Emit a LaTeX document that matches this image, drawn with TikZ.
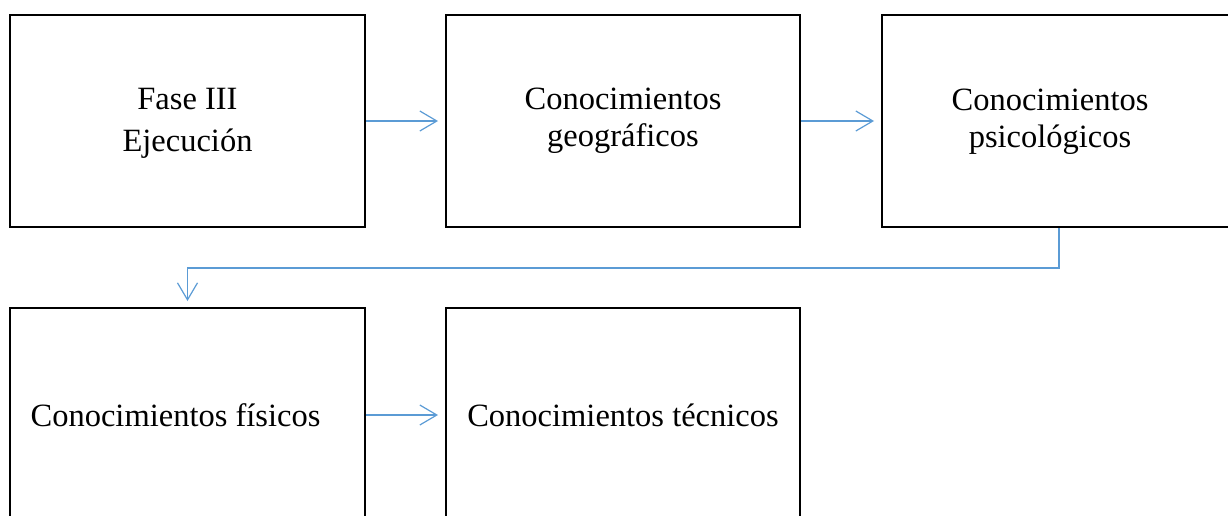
\documentclass[tikz,border=0pt]{standalone}
\usepackage{fontspec}
\setmainfont{Liberation Serif}
\usetikzlibrary{arrows.meta}
\definecolor{connblue}{RGB}{91,155,213}
\begin{document}
\begin{tikzpicture}[x=1pt,y=-1pt,
  box/.style={draw=black,line width=2pt,rectangle,minimum width=354pt,minimum height=212pt,inner sep=0pt},
  lowbox/.style={box,minimum height=214pt},
  boxtext/.style={align=center,inner sep=0pt,font=\fontsize{32.5}{42}\selectfont},
  tighttext/.style={boxtext,font=\fontsize{32.5}{37}\selectfont},
  conn/.style={draw=connblue,line width=1.2pt,-{Straight Barb[length=17pt,width=20pt,line width=1.2pt]}}]
\useasboundingbox (0,0) rectangle (1228,515);
\clip (0,0) rectangle (1228,515);
\node[box,minimum width=355pt,label={[boxtext,yshift=-2pt]center:{Fase III\\Ejecución}}] (b1) at (187.5,121) {};
\node[box,label={[tighttext]center:{Conocimientos\\geográficos}}] (b2) at (623,121) {};
\node[box,label={[tighttext,xshift=-9pt,yshift=-1pt]center:{Conocimientos\\psicológicos}}] (b3) at (1059,121) {};
\node[lowbox,minimum width=355pt,label={[boxtext,xshift=-12pt]center:{Conocimientos físicos}}] (b4) at (187.5,415) {};
\node[lowbox,label={[boxtext]center:{Conocimientos técnicos}}] (b5) at (623,415) {};
\coordinate (turn) at (1059,268);
\draw[conn,shorten >=7pt] (b1.east) -- (b2.west);
\draw[conn,shorten >=7pt] (b2.east) -- (b3.west);
\draw[conn,shorten >=7pt] (b4.east) -- (b5.west);
\draw[conn,shorten >=6pt] (b3.south) -- (turn) -| (b4.north);
\end{tikzpicture}
\end{document}
